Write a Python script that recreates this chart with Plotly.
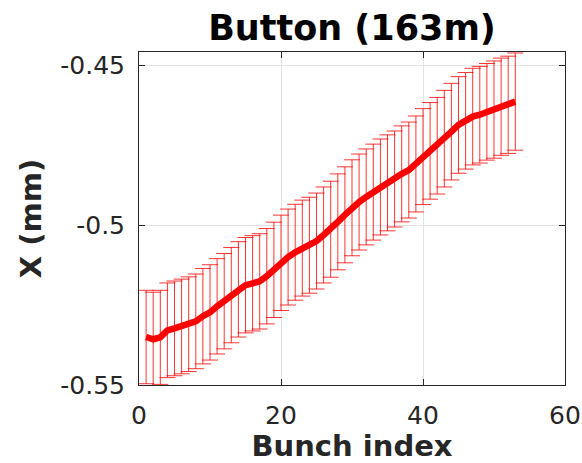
import plotly.graph_objects as go

# Bunch-by-bunch horizontal position at the 163 m button BPM
bunch_index = list(range(1, 54))
x_mean_mm = [
    -0.5350, -0.5357, -0.5351, -0.5329, -0.5323, -0.5317, -0.5310, -0.5301, -0.5285, -0.5273,
    -0.5254, -0.5238, -0.5219, -0.5201, -0.5188, -0.5182, -0.5176, -0.5160, -0.5140, -0.5118,
    -0.5100, -0.5085, -0.5072, -0.5063, -0.5050, -0.5031, -0.5013, -0.4990, -0.4968, -0.4946,
    -0.4928, -0.4912, -0.4897, -0.4881, -0.4868, -0.4856, -0.4840, -0.4828, -0.4809, -0.4786,
    -0.4768, -0.4752, -0.4730, -0.4708, -0.4687, -0.4674, -0.4661, -0.4655, -0.4646, -0.4639,
    -0.4630, -0.4624, -0.4614,
]
x_std_mm = [
    0.0146, 0.0147, 0.0147, 0.0148, 0.0148, 0.0148, 0.0148, 0.0148, 0.0149, 0.0149,
    0.0149, 0.0149, 0.0149, 0.0149, 0.0149, 0.0149, 0.0149, 0.0149, 0.0149, 0.0149,
    0.0150, 0.0150, 0.0150, 0.0150, 0.0150, 0.0150, 0.0150, 0.0150, 0.0150, 0.0150,
    0.0150, 0.0150, 0.0150, 0.0150, 0.0150, 0.0150, 0.0150, 0.0150, 0.0150, 0.0150,
    0.0151, 0.0151, 0.0151, 0.0151, 0.0151, 0.0151, 0.0151, 0.0151, 0.0151, 0.0152,
    0.0152, 0.0152, 0.0152,
]

x_ticks = [0, 20, 40, 60]
y_ticks = [-0.55, -0.5, -0.45]
y_tick_text = ["-0.55", "-0.5", "-0.45"]

axis_color = "#262626"
font_family = "DejaVu Sans"

fig = go.Figure(
    go.Scatter(
        x=bunch_index,
        y=x_mean_mm,
        mode="lines",
        line=dict(color="#ff0000", width=6.5),
        error_y=dict(
            type="data",
            array=x_std_mm,
            visible=True,
            color="rgba(255,0,0,0.8)",
            thickness=1,
            width=8,
        ),
        showlegend=False,
        cliponaxis=True,
    )
)

axis_common = dict(
    automargin=False,
    showline=True,
    linecolor=axis_color,
    linewidth=1,
    mirror="ticks",
    ticks="inside",
    ticklen=6,
    tickwidth=1,
    tickcolor=axis_color,
    showgrid=True,
    gridcolor="#e3e3e3",
    gridwidth=1,
    zeroline=False,
    tickfont=dict(family=font_family, size=25, color=axis_color),
)

fig.update_xaxes(
    range=[0, 60],
    tickvals=x_ticks,
    ticklabelstandoff=8,
    title=dict(
        text="<b>Bunch index</b>",
        font=dict(family=font_family, size=29, color=axis_color),
        standoff=4,
    ),
    **axis_common,
)
fig.update_yaxes(
    range=[-0.55, -0.4459],
    tickvals=y_ticks,
    ticktext=y_tick_text,
    ticklabelstandoff=8,
    title=dict(
        text="<b>X (mm)</b>",
        font=dict(family=font_family, size=29, color=axis_color),
        standoff=10,
    ),
    **axis_common,
)

fig.update_layout(
    width=582,
    height=463,
    margin=dict(l=139, r=17, t=52, b=78),
    paper_bgcolor="white",
    plot_bgcolor="white",
    title=dict(
        text="<b>Button (163m)</b>",
        font=dict(family=font_family, size=35, color="black"),
        x=352 / 582,
        xanchor="center",
        y=1 - 28 / 463,
        yanchor="middle",
    ),
)

fig.write_html("out.html")
